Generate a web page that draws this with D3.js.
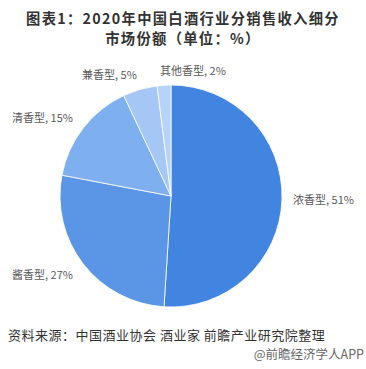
<!DOCTYPE html>
<html><head><meta charset="utf-8">
<script src="https://cdn.jsdelivr.net/npm/d3@7"></script>
<style>body{margin:0;background:#fff}svg{display:block}</style>
</head><body>
<svg id="c" width="366" height="369"></svg>
<script>
const categories = ["浓香型","酱香型","清香型","兼香型","其他香型"];
const values = [51,27,15,5,2];
const colors = ["#4285e0","#5b96e6","#7eb0f0","#a4c7f5","#b7d4f8"];
const titleLines = ["图表1：2020年中国白酒行业分销售收入细分","市场份额（单位：%）"];
const sourceText = "资料来源：中国酒业协会 酒业家  前瞻产业研究院整理";
const brandText = "@前瞻经济学人APP";

const svg = d3.select("#c");
const font = "'Noto Sans CJK SC', 'Microsoft YaHei', sans-serif";
const cx = 171, cy = 196, r = 111;

svg.selectAll("text.title").data(titleLines).join("text")
  .attr("class","title")
  .attr("x",183).attr("y",(d,i)=>23.5 + i*20.8)
  .attr("text-anchor","middle").attr("font-family",font)
  .attr("font-size",14.3).attr("font-weight","bold").attr("fill","#333")
  .attr("letter-spacing",1.3)
  .text(d=>d);

const pie = d3.pie().sort(null).value(d=>d)(values);
const arc = d3.arc().innerRadius(0).outerRadius(r);
const g = svg.append("g").attr("transform",`translate(${cx},${cy})`);
g.selectAll("path").data(pie).join("path")
  .attr("d",arc).attr("fill",(d,i)=>colors[i])
  .attr("stroke","#fff").attr("stroke-width",0.8);

const labelPos = [
  {x:293, y:204},
  {x:12, y:279},
  {x:12, y:122},
  {x:82, y:79},
  {x:160, y:75}
];
svg.selectAll("text.lab").data(pie).join("text")
  .attr("class","lab")
  .attr("x",(d,i)=>labelPos[i].x).attr("y",(d,i)=>labelPos[i].y)
  .attr("font-family",font).attr("font-size",11).attr("fill","#595959")
  .text((d,i)=>`${categories[i]}, ${values[i]}%`);

svg.append("text").attr("x",8).attr("y",340)
  .attr("font-family",font).attr("font-size",13).attr("fill","#333")
  .attr("letter-spacing",0.5)
  .text(sourceText);
svg.append("text").attr("x",364).attr("y",359).attr("text-anchor","end")
  .attr("font-family",font).attr("font-size",12.5).attr("fill","#666")
  .text(brandText);
</script>
</body></html>
